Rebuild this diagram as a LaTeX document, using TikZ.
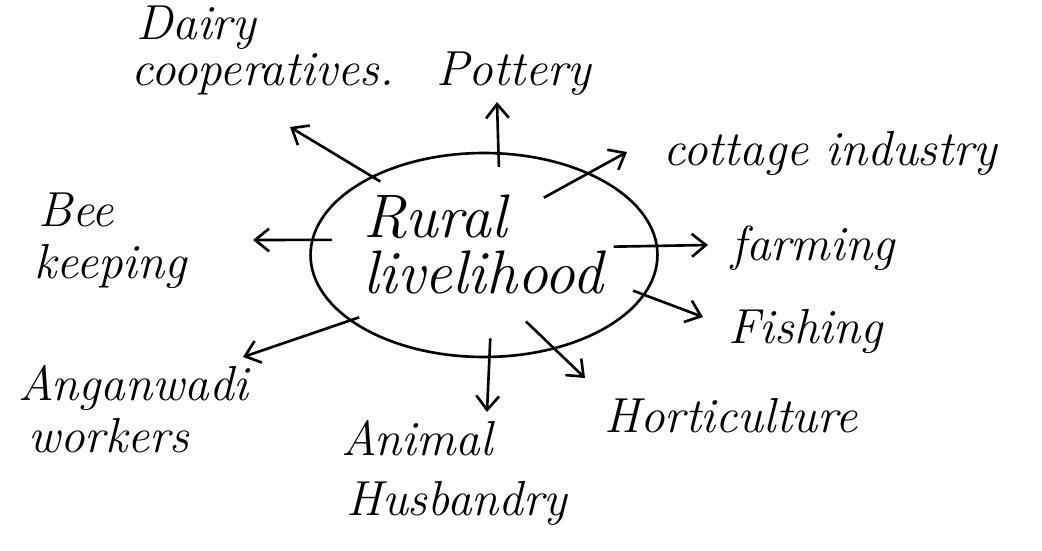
\documentclass[tikz,border=0pt]{standalone}
\usetikzlibrary{positioning, shapes.geometric, arrows.meta}

\begin{document}
\begin{tikzpicture}[x=0.02cm, y=-0.02cm, >={Straight Barb[length=8pt,width=13pt]},
    line width=1.5pt,
    lbl/.style={anchor=base west, inner sep=0pt, font=\fontsize{28}{32}\selectfont\itshape},
    big/.style={lbl, font=\fontsize{35}{40}\selectfont\itshape},
    spoke/.style={->, shorten <=-#1},
    spoke/.default=6pt]
    \useasboundingbox (0,0) rectangle (1042,551);

    % Centre
    \node[draw, ellipse, minimum width=6.94cm, minimum height=4.08cm] (rl) at (484,255) {};
    \node[big] (rural) at (362,237) {Rural};
    \node[big] (liveli) at (362,293) {livelihood};

    % Labels round it
    \node[lbl] (dairy) at (135,39) {Dairy};
    \node[lbl] (coop) at (130,85) {cooperatives.};
    \node[lbl] (pottery) at (435,85) {Pottery};
    \node[lbl] (cottage) at (662,165) {cottage industry};
    \node[lbl] (bee) at (37,226) {Bee};
    \node[lbl] (keeping) at (33,278) {keeping};
    \node[lbl] (farming) at (730,260) {farming};
    \node[lbl] (fishing) at (727,343) {Fishing};
    \node[lbl] (horti) at (603,432) {Horticulture};
    \node[lbl] (animal) at (340,455) {Animal};
    \node[lbl] (husb) at (345,515) {Husbandry};
    \node[lbl] (angan) at (17,400) {Anganwadi};
    \node[lbl] (workers) at (27,452) {workers};

    % Arrow tips
    \coordinate (tDairy) at (290,127);
    \coordinate (tPottery) at (497,102);
    \coordinate (tCottage) at (627,152);
    \coordinate (tBee) at (253,240);
    \coordinate (tFarming) at (708,245);
    \coordinate (tFishing) at (703,317);
    \coordinate (tHorti) at (585,378);
    \coordinate (tAnimal) at (487,412);
    \coordinate (tAngan) at (243,357);

    % Spokes
    \draw[spoke] (rl.145.6) -- (tDairy);
    \draw[spoke=8.4pt] (rl.82.7) -- (tPottery);
    \draw[spoke=29.6pt] (rl.38.7) -- (tCottage);
    \draw[spoke=11.9pt] (rl.175.5) -- (tBee);
    \draw[spoke=25.3pt] (rl.3.3) -- (tFarming);
    \draw[spoke=7.3pt] (rl.-14.9) -- (tFishing);
    \draw[spoke=23pt] (rl.-53) -- (tHorti);
    \draw[spoke=11.3pt] (rl.-87.9) -- (tAnimal);
    \draw[spoke] (rl.-154) -- (tAngan);

\end{tikzpicture}
\end{document}
